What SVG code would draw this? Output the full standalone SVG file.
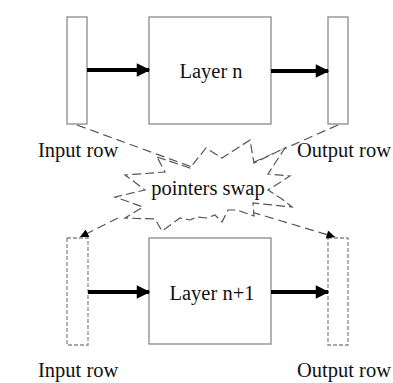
<svg xmlns="http://www.w3.org/2000/svg" width="393" height="383" viewBox="0 0 393 383">
  <defs>
    <style>
      .box { fill: #fff; stroke: #8a8a8a; stroke-width: 1.3; }
      .dbox { fill: #fff; stroke: #8a8a8a; stroke-width: 1.3; stroke-dasharray: 4 2; }
      .flow { stroke: #000; stroke-width: 4; fill: none; }
      .swap { stroke: #555; stroke-width: 1.2; fill: none; stroke-dasharray: 9 5; }
      .burst { fill: #fff; stroke: #555; stroke-width: 1.2; stroke-dasharray: 9 4; stroke-linejoin: miter; }
      .lbl { font-family: "Liberation Serif", "Times New Roman", serif; font-size: 20.5px; fill: #111; }
      .mid { text-anchor: middle; }
    </style>
    <marker id="head" viewBox="0 0 10 10" refX="9" refY="5" markerWidth="4" markerHeight="3.4" orient="auto" markerUnits="strokeWidth">
      <path d="M0,0 L10,5 L0,10 Z" fill="#000"/>
    </marker>
    <marker id="thin" viewBox="0 0 10 10" refX="10" refY="5" markerWidth="8" markerHeight="7" orient="auto" markerUnits="strokeWidth">
      <path d="M0,0 L10,5 L0,10 Z" fill="#000"/>
    </marker>
  </defs>

  <rect width="393" height="383" fill="#fff"/>

  <!-- layer n -->
  <g id="in-row-n">
    <rect class="box" x="67" y="17" width="20" height="107"/>
    <text class="lbl" x="38" y="157">Input row</text>
  </g>
  <g id="layer-n">
    <rect class="box" x="149" y="17" width="122" height="107"/>
    <text class="lbl mid" x="211" y="78">Layer n</text>
  </g>
  <g id="out-row-n">
    <rect class="box" x="328" y="17" width="20" height="107"/>
    <text class="lbl" x="297" y="157">Output row</text>
  </g>

  <!-- layer n+1 -->
  <g id="in-row-n1">
    <rect class="dbox" x="67" y="238" width="21" height="107"/>
    <text class="lbl" x="38" y="377">Input row</text>
  </g>
  <g id="layer-n1">
    <rect class="box" x="149" y="238" width="122" height="106"/>
    <text class="lbl mid" x="212" y="300">Layer n+1</text>
  </g>
  <g id="out-row-n1">
    <rect class="dbox" x="328" y="238" width="20" height="107"/>
    <text class="lbl" x="297" y="377">Output row</text>
  </g>

  <!-- connectors -->
  <g id="connectors">
    <line class="flow" x1="87" y1="70" x2="149" y2="70" marker-end="url(#head)"/>
    <line class="flow" x1="271" y1="71" x2="328" y2="71" marker-end="url(#head)"/>
    <line class="flow" x1="88" y1="292" x2="149" y2="292" marker-end="url(#head)"/>
    <line class="flow" x1="271" y1="292" x2="328" y2="292" marker-end="url(#head)"/>

    <!-- row pointers exchanged between layers -->
    <line class="swap" x1="77" y1="125" x2="192" y2="167"/>
    <line class="swap" x1="238" y1="208" x2="335" y2="237" marker-end="url(#thin)"/>
    <line class="swap" x1="338" y1="125" x2="252" y2="163"/>
    <line class="swap" x1="118" y1="218" x2="80" y2="237" marker-end="url(#thin)"/>
  </g>

  <g id="pointers-swap">
    <polygon class="burst" points="157,157 190,168 206,148 222,158 250,140 254,163 285,148 268,174 290,176 268,190 282,199 292,207 253,203 254,216 237,210 228,210 222,222 215,215 207,218 197,217 190,220 180,218 162,231 155,219 125,218 143,207 115,197 145,190 125,175 165,172"/>
    <text class="lbl mid" x="208" y="195">pointers swap</text>
  </g>
</svg>
